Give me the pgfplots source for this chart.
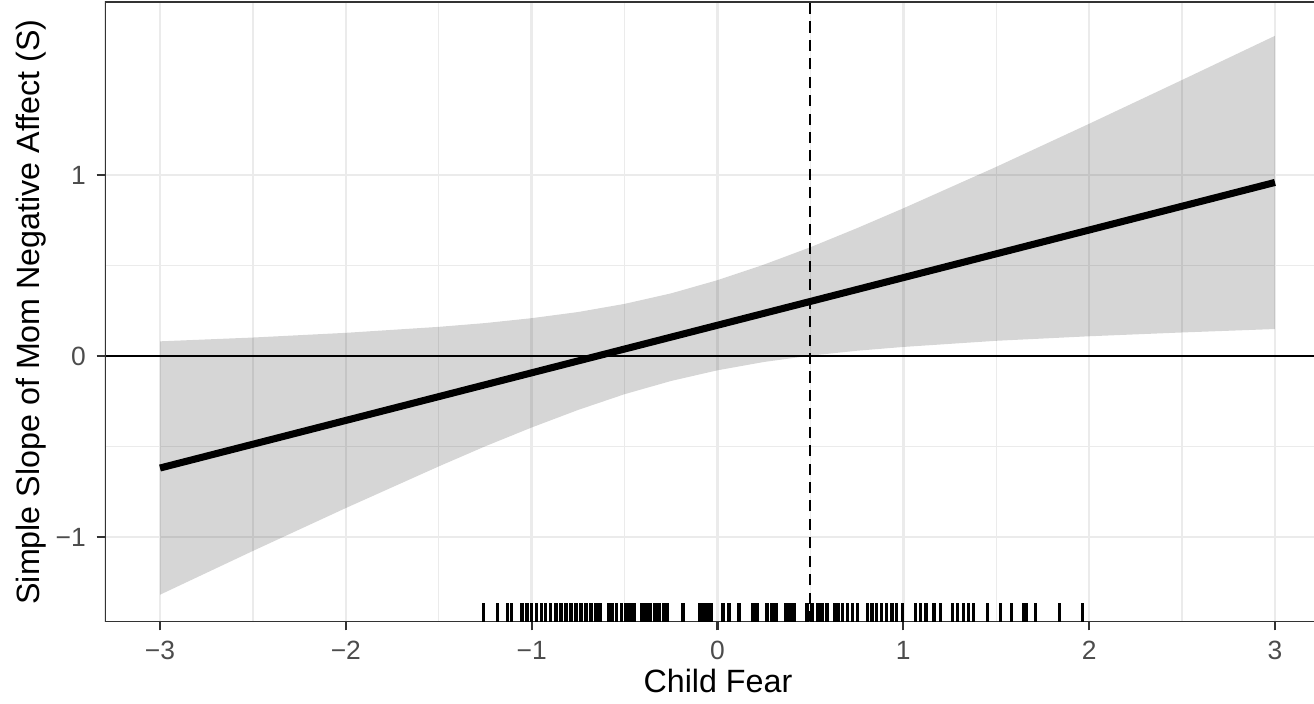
\documentclass[border=0pt]{standalone}
\usepackage{fontspec}
\setmainfont{Liberation Sans}
\usepackage{pgfplots}
\pgfplotsset{compat=1.18}
\usepgfplotslibrary{fillbetween}
\usepackage{pgfplotstable}

\definecolor{grid92}{gray}{0.92}
\definecolor{grey20}{gray}{0.2}
\definecolor{grey30}{gray}{0.3}

% confidence band of the simple slope
\pgfplotstableread{
x     lo      hi
-3.00 -1.319  0.081
-2.50 -1.077  0.102
-2.00 -0.840  0.128
-1.50 -0.610  0.161
-1.25 -0.499  0.182
-1.00 -0.395  0.209
-0.75 -0.298  0.243
-0.50 -0.211  0.288
-0.25 -0.138  0.346
 0.00 -0.079  0.419
 0.25 -0.033  0.505
 0.50  0.002  0.601
 0.75  0.029  0.706
 1.00  0.050  0.816
 1.50  0.084  1.045
 2.00  0.109  1.283
 2.50  0.130  1.525
 3.00  0.149  1.769
}\band

% observed child fear values (rug), drawn at the bottom of the panel
\pgfplotstableread{
x      y
-1.258 -1.4175
-1.183 -1.4175
-1.129 -1.4175
-1.107 -1.4175
-1.053 -1.4175
-1.026 -1.4175
-1.000 -1.4175
-0.973 -1.4175
-0.946 -1.4175
-0.924 -1.4175
-0.897 -1.4175
-0.870 -1.4175
-0.843 -1.4175
-0.816 -1.4175
-0.789 -1.4175
-0.762 -1.4175
-0.735 -1.4175
-0.708 -1.4175
-0.681 -1.4175
-0.654 -1.4175
-0.633 -1.4175
-0.585 -1.4175
-0.568 -1.4175
-0.542 -1.4175
-0.515 -1.4175
-0.493 -1.4175
-0.471 -1.4175
-0.450 -1.4175
-0.407 -1.4175
-0.385 -1.4175
-0.364 -1.4175
-0.337 -1.4175
-0.315 -1.4175
-0.288 -1.4175
-0.272 -1.4175
-0.186 -1.4175
-0.094 -1.4175
-0.078 -1.4175
-0.057 -1.4175
-0.035 -1.4175
0.030 -1.4175
0.062 -1.4175
0.116 -1.4175
0.191 -1.4175
0.213 -1.4175
0.267 -1.4175
0.294 -1.4175
0.315 -1.4175
0.369 -1.4175
0.391 -1.4175
0.412 -1.4175
0.482 -1.4175
0.509 -1.4175
0.541 -1.4175
0.563 -1.4175
0.590 -1.4175
0.628 -1.4175
0.649 -1.4175
0.671 -1.4175
0.698 -1.4175
0.725 -1.4175
0.752 -1.4175
0.806 -1.4175
0.832 -1.4175
0.854 -1.4175
0.881 -1.4175
0.908 -1.4175
0.940 -1.4175
0.962 -1.4175
0.994 -1.4175
1.064 -1.4175
1.091 -1.4175
1.123 -1.4175
1.166 -1.4175
1.199 -1.4175
1.263 -1.4175
1.290 -1.4175
1.323 -1.4175
1.350 -1.4175
1.377 -1.4175
1.452 -1.4175
1.522 -1.4175
1.581 -1.4175
1.646 -1.4175
1.662 -1.4175
1.711 -1.4175
1.840 -1.4175
1.964 -1.4175
}\rug

\begin{document}
\begin{tikzpicture}
\begin{axis}[
    at={(0,0)}, anchor=south west,
    scale only axis, width=393.8pt, height=201.95pt,
    xmin=-3.296, xmax=3.21, ymin=-1.4696, ymax=1.956,
    xtick={-3,...,3}, xticklabels={−3,−2,−1,0,1,2,3},
    ytick={-1,0,1}, yticklabels={−1,0,1},
    minor x tick num=1, minor y tick num=1,
    grid=both,
    major grid style={grid92, line width=0.8pt},
    minor grid style={grid92, line width=0.4pt},
    minor tick length=0pt,
    major tick length=2.75pt,
    tick align=outside, tick pos=left,
    tick style={grey20, line width=0.7pt},
    axis line style={draw=none},
    ticklabel style={font=\fontsize{8.6}{10}\selectfont, text=grey30},
    xlabel={Child Fear}, ylabel={Simple Slope of Mom Negative Affect (S)},
    label style={font=\fontsize{10.5}{12.5}\selectfont},
    xlabel style={at={(rel axis cs:0.507,0)}, anchor=base, yshift=-23.1pt},
    ylabel style={at={(rel axis cs:0,0.5)}, anchor=base, yshift=21.4pt},
]
\addplot[name path=up, draw=none] table[x=x, y=hi] {\band};
\addplot[name path=dn, draw=none] table[x=x, y=lo] {\band};
\addplot[fill=black, fill opacity=0.16, draw=none] fill between[of=up and dn];

\addplot[black, line width=0.7pt] coordinates {(-3.296,0) (3.21,0)};
\addplot[black, line width=2.3pt] coordinates {(-3,-0.619) (3,0.959)};
\addplot[black, line width=0.7pt, dash pattern=on 3.6pt off 2.4pt] coordinates {(0.5,-1.4696) (0.5,1.956)};

\addplot[only marks, mark=|, mark size=3.1pt, mark options={line width=1.1pt, black}] table[x=x, y=y] {\rug};

\draw[grey20, line width=0.7pt] (rel axis cs:1,1) -- (rel axis cs:0,1) -- (rel axis cs:0,0) -- (rel axis cs:1,0);
\end{axis}
\pgfresetboundingbox
\path (-34.2pt,-26.7pt) rectangle (393.8pt,202.6pt);
\end{tikzpicture}
\end{document}
